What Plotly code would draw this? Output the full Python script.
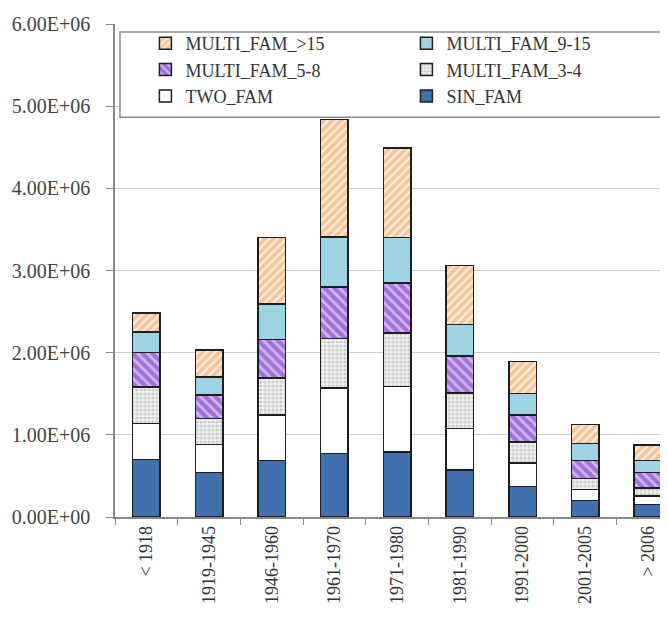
import plotly.graph_objects as go

categories = ["< 1918", "1919-1945", "1946-1960", "1961-1970", "1971-1980",
              "1981-1990", "1991-2000", "2001-2005", "> 2006"]

sin_fam      = [0.70e6, 0.54e6, 0.69e6, 0.77e6, 0.79e6, 0.57e6, 0.37e6, 0.20e6, 0.15e6]
two_fam      = [0.44e6, 0.345e6, 0.55e6, 0.80e6, 0.80e6, 0.51e6, 0.29e6, 0.135e6, 0.105e6]
multi_3_4    = [0.445e6, 0.316e6, 0.45e6, 0.60e6, 0.65e6, 0.43e6, 0.25e6, 0.135e6, 0.10e6]
multi_5_8    = [0.415e6, 0.284e6, 0.47e6, 0.63e6, 0.61e6, 0.45e6, 0.33e6, 0.215e6, 0.185e6]
multi_9_15   = [0.25e6, 0.216e6, 0.43e6, 0.61e6, 0.55e6, 0.38e6, 0.265e6, 0.21e6, 0.145e6]
multi_gt15   = [0.23e6, 0.33e6, 0.81e6, 1.43e6, 1.09e6, 0.72e6, 0.385e6, 0.23e6, 0.19e6]

y_tickvals = [0, 1e6, 2e6, 3e6, 4e6, 5e6, 6e6]
y_ticktext = ["0.00E+00", "1.00E+06", "2.00E+06", "3.00E+06", "4.00E+06", "5.00E+06", "6.00E+06"]

FONT = "Liberation Serif"
LINE = dict(color="#1e1e1e", width=1.5)

series = [
    ("SIN_FAM", sin_fam, dict(color="#4070B0", line=LINE)),
    ("TWO_FAM", two_fam, dict(color="#FFFFFF", line=LINE)),
    ("MULTI_FAM_3-4", multi_3_4, dict(color="#FFFFFF", line=LINE,
        pattern=dict(shape=".", fgcolor="#A5A5A5", bgcolor="#F2F2F2", size=4, solidity=0.5))),
    ("MULTI_FAM_5-8", multi_5_8, dict(color="#9E6FDB", line=LINE,
        pattern=dict(shape="\\", fgcolor="#FFFFFF", bgcolor="#A070DC", size=7, solidity=0.4))),
    ("MULTI_FAM_9-15", multi_9_15, dict(color="#9DD3E3", line=LINE)),
    ("MULTI_FAM_>15", multi_gt15, dict(color="#F6B07A", line=LINE,
        pattern=dict(shape="/", fgcolor="#EF9750", bgcolor="#FFEEDD", size=6, solidity=0.6))),
]

fig = go.Figure()
for name, vals, marker in series:
    fig.add_trace(go.Bar(x=categories, y=vals, name=name, marker=marker, width=0.44))

fig.update_layout(
    width=660, height=610,
    barmode="stack",
    plot_bgcolor="white", paper_bgcolor="white",
    margin=dict(l=107, r=0, t=16, b=101),
    font=dict(family=FONT, color="#333333"),
    showlegend=True,
    legend=dict(
        orientation="h", traceorder="reversed",
        x=0.055, xanchor="left", y=0.998, yanchor="top",
        entrywidth=216, entrywidthmode="pixels",
        font=dict(family=FONT, size=18, color="#333333"),
        bgcolor="rgba(0,0,0,0)", borderwidth=0, itemwidth=30,
    ),
    shapes=[dict(type="rect", xref="paper", yref="paper",
                 x0=0.009, x1=1.05, y0=0.811, y1=0.984,
                 line=dict(color="#8a8a8a", width=1.5), fillcolor="white", layer="above")],
)

fig.update_xaxes(
    range=[-0.5, 8.32], type="category",
    tickangle=-90, tickson="boundaries", ticks="outside", ticklen=6,
    tickcolor="#888888", showline=True, linecolor="#888888", linewidth=1.5,
    tickfont=dict(family=FONT, size=18, color="#333333"),
    showgrid=False,
)
fig.update_yaxes(
    range=[0, 6e6], tickvals=y_tickvals, ticktext=y_ticktext,
    ticks="outside", ticklen=7, tickcolor="#888888",
    showline=True, linecolor="#888888", linewidth=1.5,
    showgrid=True, gridcolor="#cccccc", gridwidth=1,
    tickfont=dict(family=FONT, size=20, color="#444444"),
    ticklabelstandoff=12, zeroline=False,
)

fig.write_html("out.html")
